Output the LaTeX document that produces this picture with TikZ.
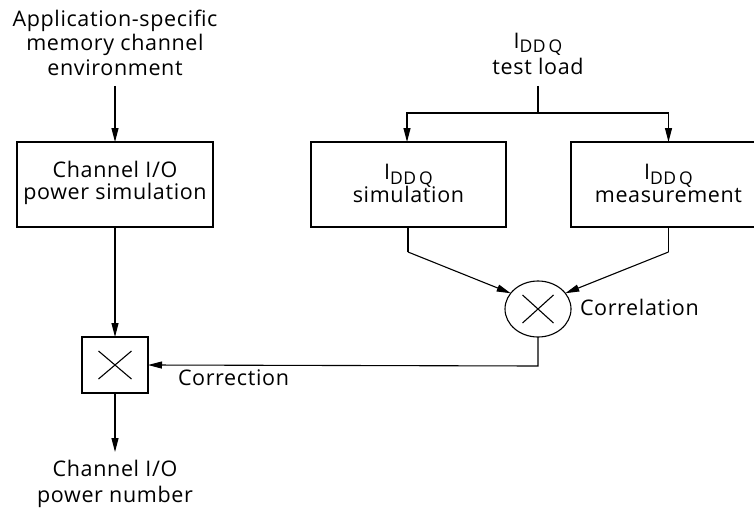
\documentclass[tikz,border=0pt]{standalone}
\usepackage{fontspec}
\setmainfont{Open Sans}[LetterSpace=3]
\usetikzlibrary{arrows.meta,shapes.geometric}
\newcommand{\iddq}{I\smash{\raisebox{-4.5pt}{\fontsize{17.5}{17.5}\selectfont DD\,Q}}}
\newcommand{\lowdepth}[1]{\rule[-#1]{0pt}{#1}}
\begin{document}
\begin{tikzpicture}[x=1pt,y=-1pt,
  every node/.style={inner sep=0pt,outer sep=0pt},
  txt/.style={align=center,font=\fontsize{21.5}{24.2}\selectfont},
  blk/.style={draw,line width=1.1pt,minimum height=85pt,align=center},
  mul/.style={draw,line width=1.1pt,minimum width=66pt,minimum height=56pt},
  ell/.style={draw,ellipse,line width=1.1pt,minimum width=66pt,minimum height=56pt},
  conn/.style={line width=1.1pt},
  arr/.style={conn,-{Triangle[length=14pt,width=7pt]}}]
\clip (0,0) rectangle (754,508);
\fill[white] (0,0) rectangle (754,508);
% nodes
\node[txt] (env) at (115,42.7) {Application-specific\\memory channel\\environment};
\node[blk,minimum width=196pt,font=\fontsize{21.5}{22}\selectfont] (chsim) at (115,184.5) {Channel I/O\\power simulation\lowdepth{9.2pt}};
\node[txt,font=\fontsize{21.5}{26.6}\selectfont] (load) at (538,54) {\iddq\\test load};
\node[blk,minimum width=195pt,font=\fontsize{21.5}{22.5}\selectfont] (ddsim) at (408.5,184.5) {\iddq\\simulation\lowdepth{2pt}};
\node[blk,minimum width=195pt,font=\fontsize{21.5}{22.5}\selectfont] (ddmeas) at (668.5,184.5) {\iddq\\measurement\lowdepth{2pt}};
\node[ell] (corr) at (538,309) {};
\node[mul] (mult) at (115,365) {};
\node[txt,font=\fontsize{21.5}{26}\selectfont] (out) at (115,483.5) {Channel I/O\\power number};
\node[txt,anchor=base west] (corrlab) at (580,315) {Correlation};
\node[txt,anchor=base west] (correctlab) at (178,385) {Correction};
% crosses
\draw[conn] ([shift={(-15.5,-14)}]corr.center) -- ([shift={(15.5,14)}]corr.center);
\draw[conn] ([shift={(-15.5,14)}]corr.center) -- ([shift={(15.5,-14)}]corr.center);
\draw[conn] ([shift={(-16.5,-14)}]mult.center) -- ([shift={(16.5,14)}]mult.center);
\draw[conn] ([shift={(-16.5,14)}]mult.center) -- ([shift={(16.5,-14)}]mult.center);
% coordinates
\coordinate (envend) at (115,86);
\coordinate (loadend) at (538,86);
\coordinate (split) at (538,113);
\coordinate (lbend) at (408,252);
\coordinate (rbend) at (668.5,252);
\coordinate (cbend) at (538,366);
\coordinate (outend) at (115,452);
% connectors
\draw[arr] (envend) -- (chsim.north);
\draw[conn] (loadend) -- (split);
\draw[arr] (split) -| (ddsim.north -| 407,0);
\draw[arr] (split) -| (ddmeas.north);
\draw[conn] (ddsim.south -| lbend) -- (lbend);
\draw[arr] (lbend) -- (corr.150);
\draw[conn] (ddmeas.south) -- (rbend);
\draw[arr] (rbend) -- (corr.30);
\draw[arr] (corr.south) -- (cbend) -- (mult.east);
\draw[arr] (chsim.south) -- (mult.north);
\draw[arr] (mult.south) -- (outend);
\end{tikzpicture}
\end{document}
